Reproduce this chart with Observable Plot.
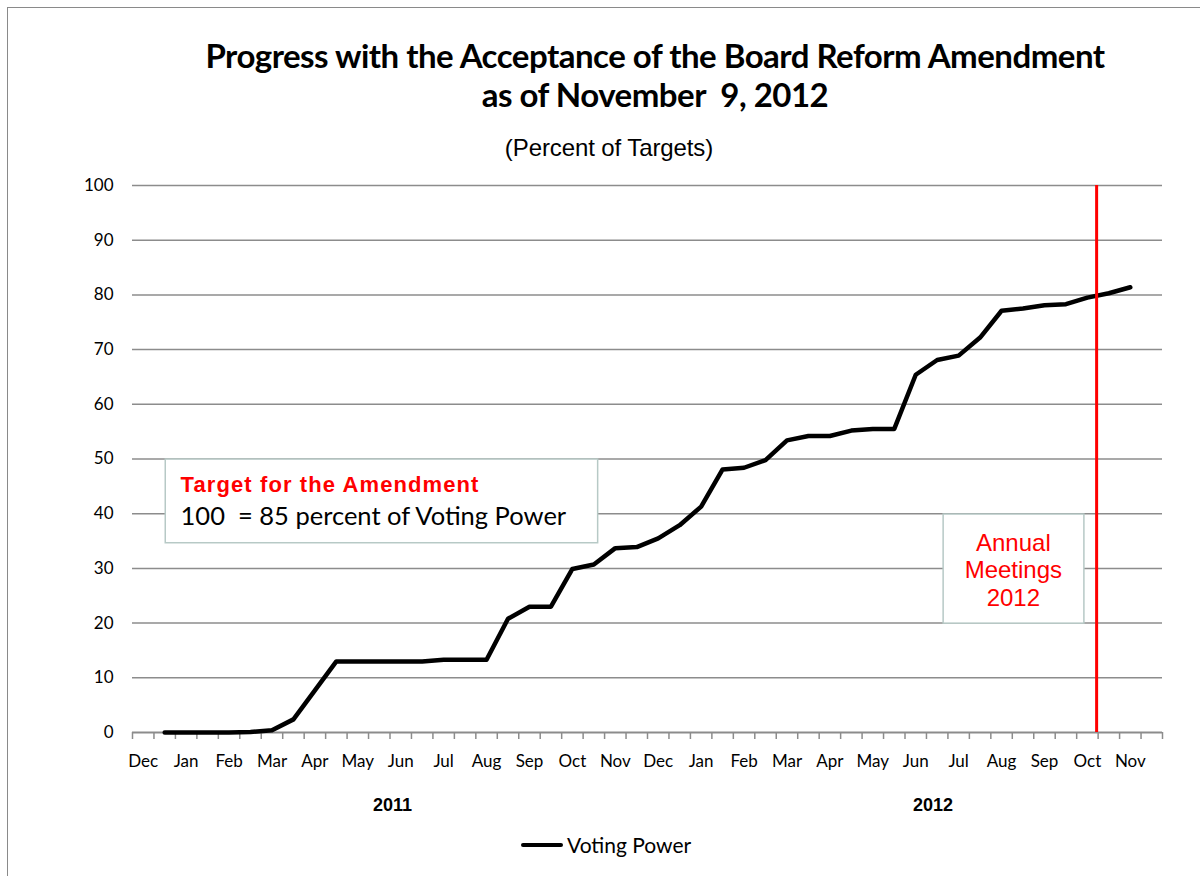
<!DOCTYPE html>
<html>
<head>
<meta charset="utf-8">
<script src="https://cdn.jsdelivr.net/npm/d3@7"></script>
<script src="https://cdn.jsdelivr.net/npm/@observablehq/plot@0.6"></script>
<style>
  body { margin: 0; background: #fff; width: 1200px; height: 876px; overflow: hidden; position: relative; }
  #frame { position: absolute; left: 7px; top: 7px; width: 1300px; height: 1000px; border-left: 1px solid #8a8a8a; border-top: 1px solid #8a8a8a; }
  .title { position: absolute; left: 0; width: 1310px; text-align: center; font-family: Lato, sans-serif; font-weight: bold; font-size: 33px; letter-spacing: -0.5px; color: #000; white-space: nowrap; }
  #sub { position: absolute; left: 0; width: 1218px; top: 134px; text-align: center; font-family: "Liberation Sans", Arial, sans-serif; font-size: 24px; letter-spacing: -0.1px; color: #000; }
  #chart { position: absolute; left: 0; top: 165px; }
  #legend { position: absolute; left: 521px; top: 832px; font-family: Lato, sans-serif; font-size: 21px; color: #000; display: flex; align-items: center; }
  #legend .sw { width: 42px; height: 4px; background: #000; margin-right: 4px; border-radius: 2px; }
</style>
</head>
<body>
<div id="frame"></div>
<div class="title" style="top:35px">Progress with the Acceptance of the Board Reform Amendment</div>
<div class="title" style="top:74px">as of November&nbsp; 9, 2012</div>
<div id="sub">(Percent of Targets)</div>
<div id="chart"></div>
<div id="legend"><div class="sw"></div><span>Voting Power</span></div>
<script>
// Month labels (one per two half-month periods), starting Dec 2010
const monthLabels = ["Dec","Jan","Feb","Mar","Apr","May","Jun","Jul","Aug","Sep","Oct","Nov",
                     "Dec","Jan","Feb","Mar","Apr","May","Jun","Jul","Aug","Sep","Oct","Nov"];
// Voting power (percent of target) for periods 1..46
const votingPower = [0, 0, 0, 0, 0.1, 0.4, 2.4, 7.7, 13.0, 13.0, 13.0, 13.0, 13.0, 13.3, 13.3, 13.3,
                     20.8, 23.0, 23.0, 29.9, 30.7, 33.7, 33.9, 35.5, 37.9, 41.3, 48.1, 48.4, 49.8,
                     53.4, 54.2, 54.2, 55.2, 55.5, 55.5, 65.4, 68.1, 68.9, 72.2, 77.1, 77.5, 78.1,
                     78.3, 79.5, 80.3, 81.4];
const firstPeriod = 1;
const nPeriods = 48;
const yTicks = [0,10,20,30,40,50,60,70,80,90,100];
const annualMeetingBoundary = [44.93];
const yearLabels = [{label: "2011", x: 12.12, y: -14.4}, {label: "2012", x: 37.3, y: -14.4}];
const boxes = [
  {x1: 1.55, x2: 21.7, y1: 34.6, y2: 49.9},
  {x1: 37.8, x2: 44.36, y1: 19.9, y2: 39.85}
];
const targetText = [
  {text: "Target for the Amendment", x: 2.24, y: 44.0, color: "#ff0000", weight: "bold", size: 22, font: "Liberation Sans", spacing: "1.1px"},
  {text: "100  = 85 percent of Voting Power", x: 2.24, y: 38.0, color: "#000", weight: "normal", size: 25.5, font: "Lato", spacing: "0px"}
];
const meetingText = [
  {text: "Annual", x: 41.05, y: 33.27},
  {text: "Meetings", x: 41.05, y: 28.25},
  {text: "2012", x: 41.05, y: 23.2}
];

const data = votingPower.map((v, i) => ({t: firstPeriod + i + 0.5, v}));
const monthPos = monthLabels.map((_, i) => i * 2 + 0.5);
const monthMap = new Map(monthPos.map((p, i) => [p, monthLabels[i]]));

const chart = Plot.plot({
  width: 1200,
  height: 660,
  marginTop: 20,
  marginBottom: 93,
  marginLeft: 132,
  marginRight: 38,
  style: {fontFamily: "Lato, sans-serif", fontSize: "17px", color: "#000", background: "transparent"},
  x: {domain: [0, nPeriods], axis: null},
  y: {domain: [0, 100], axis: null},
  marks: [
    Plot.ruleY(yTicks.filter(d => d > 0), {stroke: "#8c8c8c", strokeWidth: 1.5}),
    Plot.ruleY([0], {stroke: "#8c8c8c", strokeWidth: 2}),
    Plot.axisX({ticks: d3.range(0, nPeriods + 1), tickSize: 7, tickFormat: () => "", stroke: "#8c8c8c", strokeWidth: 1.5}),
    Plot.axisX({ticks: monthPos, tickSize: 0, tickPadding: 22, tickFormat: d => monthMap.get(d), fontSize: 17, fill: "#000"}),
    Plot.axisY({ticks: yTicks, tickSize: 0, tickPadding: 19, fontSize: 17, fill: "#000"}),
    Plot.rect(boxes, {x1: "x1", x2: "x2", y1: "y1", y2: "y2", fill: "white", stroke: "#b7c9c6", strokeWidth: 1.5}),
    Plot.line(data, {x: "t", y: "v", stroke: "#000", strokeWidth: 4.5, strokeLinejoin: "round", strokeLinecap: "round"}),
    Plot.ruleX(annualMeetingBoundary, {y1: 0, y2: 100, stroke: "#ff0000", strokeWidth: 3}),
    Plot.text(yearLabels, {x: "x", y: "y", text: "label", fontWeight: "bold", fontSize: 18, fontFamily: "Liberation Sans", lineAnchor: "bottom", fill: "#000"}),
    ...targetText.map(t => Plot.text([t], {x: "x", y: "y", text: "text", textAnchor: "start", lineAnchor: "bottom", fill: t.color, fontWeight: t.weight, fontSize: t.size, fontFamily: t.font})),
    Plot.text(meetingText, {x: "x", y: "y", text: "text", lineAnchor: "bottom", fill: "#ff0000", fontSize: 24, fontFamily: "Liberation Sans"})
  ]
});
// apply letter spacing to annotation texts
const texts = chart.querySelectorAll("g[aria-label='text'] text");
texts.forEach(el => {
  const t = targetText.find(d => d.text === el.textContent);
  if (t) el.style.letterSpacing = t.spacing;
});
document.getElementById("chart").appendChild(chart);
</script>
</body>
</html>
